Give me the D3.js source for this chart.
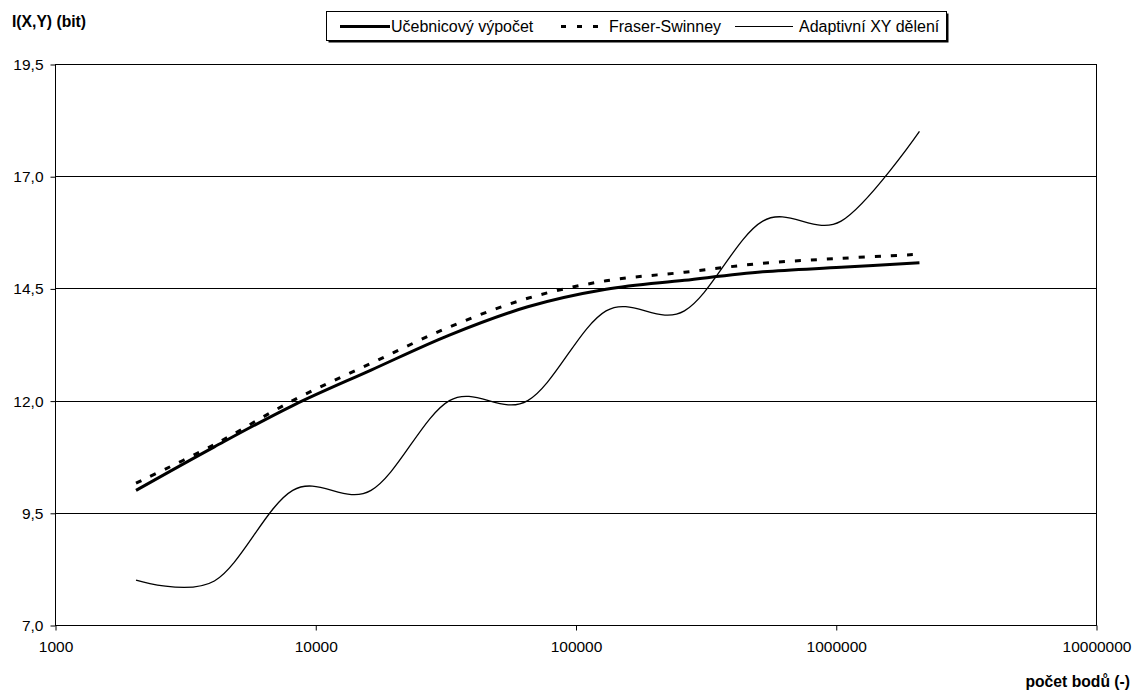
<!DOCTYPE html>
<html>
<head>
<meta charset="utf-8">
<script src="https://cdn.jsdelivr.net/npm/d3@7"></script>
<style>
  body { margin: 0; background: #fff; }
  text { font-family: "Liberation Sans", Arial, sans-serif; }
</style>
</head>
<body>
<div id="wrapper"></div>
<script>
// Počet bodů (2^11 .. 2^21)
const pocetBodu = [2048, 4096, 8192, 16384, 32768, 65536, 131072, 262144, 524288, 1048576, 2097152];
// Odhad vzájemné informace I(X,Y) v bitech
const ucebnicovy = [10.0, 10.97, 11.89, 12.68, 13.46, 14.09, 14.48, 14.68, 14.87, 14.97, 15.07];
const fraserSwinney = [10.16, 11.02, 12.0, 12.83, 13.64, 14.28, 14.67, 14.86, 15.06, 15.17, 15.26];
const adaptivni = [8.0, 7.98, 10.0, 10.0, 12.0, 12.0, 14.0, 14.0, 16.0, 16.0, 18.0];
const yTicks = [7.0, 9.5, 12.0, 14.5, 17.0, 19.5];
const xTicks = [1000, 10000, 100000, 1000000, 10000000];

const series = [
  { name: "Učebnicový výpočet", values: ucebnicovy, width: 3, dash: null },
  { name: "Fraser-Swinney", values: fraserSwinney, width: 3, dash: "6,10" },
  { name: "Adaptivní XY dělení", values: adaptivni, width: 1.3, dash: null }
];

function draw() {
  const width = 1145, height = 695;
  const plot = { left: 55, right: 1096, top: 64, bottom: 625 };

  const svg = d3.select("#wrapper").append("svg")
    .attr("width", width)
    .attr("height", height);

  const x = d3.scaleLog().domain([1000, 10000000]).range([plot.left, plot.right]);
  const y = d3.scaleLinear().domain([7, 19.5]).range([plot.bottom, plot.top]);

  const cz = d3.formatLocale({ decimal: ",", thousands: "", grouping: [3], currency: ["", ""] });
  const fmtY = cz.format(".1f");

  // mřížka
  svg.append("g")
    .selectAll("line")
    .data(yTicks)
    .enter()
    .append("line")
    .attr("x1", plot.left)
    .attr("x2", plot.right)
    .attr("y1", d => Math.round(y(d)) + 0.5)
    .attr("y2", d => Math.round(y(d)) + 0.5)
    .attr("stroke", "#000")
    .attr("stroke-width", 1);

  // okraj plochy grafu
  svg.append("rect")
    .attr("x", plot.left + 0.5)
    .attr("y", Math.round(plot.top) + 0.5)
    .attr("width", plot.right - plot.left)
    .attr("height", plot.bottom - plot.top)
    .attr("fill", "none")
    .attr("stroke", "#000")
    .attr("stroke-width", 1);

  // osa y
  const yAxis = svg.append("g")
    .attr("transform", "translate(" + (plot.left + 0.5) + ",0.5)")
    .call(d3.axisLeft(y).tickValues(yTicks).tickFormat(fmtY).tickSize(5).tickPadding(7));
  yAxis.select(".domain").remove();
  yAxis.selectAll("line").attr("stroke", "#000");
  yAxis.selectAll("text")
    .attr("font-size", "15.5px")
    .attr("fill", "#000")
    .attr("font-family", "Liberation Sans, Arial, sans-serif");

  // osa x
  const xAxis = svg.append("g")
    .attr("transform", "translate(0.5," + (Math.round(plot.bottom) + 0.5) + ")")
    .call(d3.axisBottom(x).tickValues(xTicks).tickFormat(d3.format("d")).tickSize(5).tickPadding(10));
  xAxis.select(".domain").remove();
  xAxis.selectAll("line").attr("stroke", "#000");
  xAxis.selectAll("text")
    .attr("font-size", "15.5px")
    .attr("fill", "#000")
    .attr("font-family", "Liberation Sans, Arial, sans-serif");

  // křivky
  const line = d3.line()
    .x((d, i) => x(pocetBodu[i]))
    .y(d => y(d))
    .curve(d3.curveCardinal.tension(0));

  svg.append("g")
    .selectAll("path")
    .data(series)
    .enter()
    .append("path")
    .attr("d", d => line(d.values))
    .attr("fill", "none")
    .attr("stroke", "#000")
    .attr("stroke-width", d => d.width)
    .attr("stroke-dasharray", d => d.dash);

  // popisky os
  svg.append("text")
    .attr("x", 12)
    .attr("y", 27)
    .attr("font-size", "15.7px")
    .attr("font-weight", "bold")
    .text("I(X,Y) (bit)");

  svg.append("text")
    .attr("x", 1130)
    .attr("y", 687)
    .attr("text-anchor", "end")
    .attr("font-size", "15.7px")
    .attr("font-weight", "bold")
    .text("počet bodů (-)");

  // legenda
  const legend = svg.append("g");
  legend.append("rect")
    .attr("x", 328.5)
    .attr("y", 13.5)
    .attr("width", 620)
    .attr("height", 29)
    .attr("fill", "#000");
  legend.append("rect")
    .attr("x", 326.5)
    .attr("y", 11.5)
    .attr("width", 620)
    .attr("height", 29)
    .attr("fill", "#fff")
    .attr("stroke", "#000")
    .attr("stroke-width", 1);

  const legendItems = [
    { s: series[0], x1: 340, x2: 390, tx: 391 },
    { s: series[1], x1: 561, x2: 600, tx: 609 },
    { s: series[2], x1: 735, x2: 793, tx: 799 }
  ];
  legendItems.forEach(it => {
    legend.append("line")
      .attr("x1", it.x1)
      .attr("x2", it.x2)
      .attr("y1", 26.5)
      .attr("y2", 26.5)
      .attr("stroke", "#000")
      .attr("stroke-width", it.s.width === 3 ? 3 : 1)
      .attr("stroke-dasharray", it.s.dash ? "5,11" : null);
    legend.append("text")
      .attr("x", it.tx)
      .attr("y", 32)
      .attr("font-size", "16px")
      .text(it.s.name);
  });
}
draw();
</script>
</body>
</html>
